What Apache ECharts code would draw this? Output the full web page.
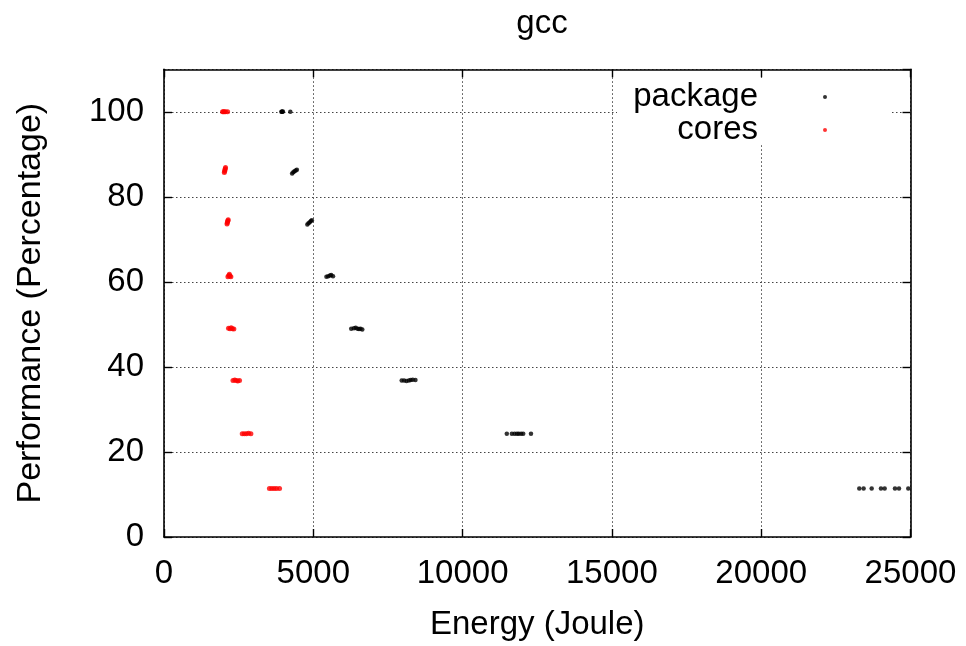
<!DOCTYPE html>
<html>
<head>
<meta charset="utf-8">
<script src="https://cdn.jsdelivr.net/npm/echarts@6/dist/echarts.min.js"></script>
<style>
  html, body { margin: 0; padding: 0; background: #fff; }
  #chart { width: 966px; height: 646px; }
</style>
</head>
<body>
<div id="chart"></div>
<script>
// Energy (Joule) vs. performance (%) for gcc, one point per run
const chartTitle = 'gcc';
const seriesNames = ['package', 'cores'];

const packagePoints = [
  [3930, 100], [3950, 100], [3965, 100], [3980, 100.1], [4230, 100],
  [4290, 85.5], [4330, 85.8], [4370, 86.0], [4410, 86.2], [4450, 86.4],
  [4800, 73.5], [4840, 73.8], [4880, 74.0], [4920, 74.3], [4950, 74.5],
  [5440, 61.2], [5500, 61.3], [5560, 61.5], [5600, 61.6], [5660, 61.3],
  [6270, 49.0], [6360, 49.1], [6420, 49.2], [6480, 49.0], [6530, 48.9], [6580, 49.0], [6640, 48.8],
  [7960, 36.8], [8040, 36.8], [8120, 36.7], [8200, 36.8], [8260, 36.9], [8330, 37.0], [8420, 36.9],
  [11480, 24.3], [11650, 24.3], [11740, 24.3], [11820, 24.3], [11880, 24.3], [11960, 24.3], [12030, 24.3], [12290, 24.3],
  [23285, 11.4], [23430, 11.4], [23700, 11.4], [24010, 11.4], [24135, 11.4], [24480, 11.4], [24615, 11.4], [24925, 11.4]
];

const coresPoints = [
  [1960, 100], [1990, 100], [2020, 100], [2060, 100], [2130, 100],
  [2020, 85.7], [2030, 86.0], [2040, 86.3], [2050, 86.6], [2060, 86.9],
  [2110, 73.6], [2120, 73.9], [2130, 74.2], [2140, 74.4], [2150, 74.6],
  [2140, 61.2], [2170, 61.5], [2190, 61.8], [2210, 61.4], [2240, 61.2],
  [2160, 49.1], [2210, 49.0], [2250, 49.2], [2290, 49.0], [2340, 48.9],
  [2310, 36.8], [2370, 36.9], [2420, 36.8], [2470, 36.7], [2530, 36.8],
  [2620, 24.3], [2690, 24.3], [2760, 24.3], [2830, 24.4], [2910, 24.3],
  [3530, 11.4], [3610, 11.4], [3690, 11.4], [3770, 11.4], [3870, 11.4]
];

const xTickValues = [0, 5000, 10000, 15000, 20000, 25000];
const yTickValues = [0, 20, 40, 60, 80, 100];
const yMax = 110;

const FONT = 'Liberation Sans, Arial, Helvetica, sans-serif';
const FS = 33;

const gridLine = { show: true, lineStyle: { color: '#444', width: 1, type: [1.5, 2.5] } };
const frameLine = { show: true, onZero: false, lineStyle: { color: '#000', width: 1.6 } };
const innerTick = { show: true, inside: true, length: 8, lineStyle: { color: '#000', width: 1.4 } };

const xStep = xTickValues[1] - xTickValues[0];
const yStep = yTickValues[1] - yTickValues[0];
const plainNumber = v => String(v);

const chart = echarts.init(document.getElementById('chart'), null, { renderer: 'canvas' });

chart.setOption({
  backgroundColor: '#fff',
  animation: false,
  title: {
    text: chartTitle,
    left: 537,
    textAlign: 'center',
    top: 2,
    textStyle: { fontFamily: FONT, fontSize: FS, fontWeight: 'normal', color: '#000' }
  },
  grid: { left: 164, right: 55.5, top: 69.3, bottom: 106.5, containLabel: false },
  legend: {
    orient: 'vertical',
    align: 'right',
    right: 139,
    top: 80.5,
    padding: 0,
    itemGap: 0,
    itemWidth: 4,
    itemHeight: 4,
    icon: 'circle',
    selectedMode: false,
    data: seriesNames,
    textStyle: { fontFamily: FONT, fontSize: FS, color: '#000', lineHeight: 33, padding: [0, 60, 0, 0] }
  },
  graphic: [{
    type: 'rect',
    z: 3,
    shape: { x: 617, y: 78, width: 273, height: 67 },
    style: { fill: '#fff' },
    silent: true
  }],
  xAxis: [{
    type: 'value',
    position: 'bottom',
    min: xTickValues[0],
    max: xTickValues[xTickValues.length - 1],
    interval: xStep,
    name: 'Energy (Joule)',
    nameLocation: 'middle',
    nameGap: 71,
    nameTextStyle: { fontFamily: FONT, fontSize: FS, color: '#000' },
    axisLine: frameLine,
    axisTick: innerTick,
    axisLabel: { fontFamily: FONT, fontSize: FS, color: '#000', margin: 20, formatter: plainNumber },
    splitLine: gridLine
  }, {
    type: 'value',
    position: 'top',
    min: xTickValues[0],
    max: xTickValues[xTickValues.length - 1],
    interval: xStep,
    axisLine: frameLine,
    axisTick: innerTick,
    axisLabel: { show: false },
    splitLine: { show: false }
  }],
  yAxis: [{
    type: 'value',
    position: 'left',
    min: yTickValues[0],
    max: yMax,
    interval: yStep,
    name: 'Performance (Percentage)',
    nameLocation: 'middle',
    nameGap: 116,
    nameTextStyle: { fontFamily: FONT, fontSize: 34, color: '#000' },
    axisLine: frameLine,
    axisTick: innerTick,
    axisLabel: { fontFamily: FONT, fontSize: FS, color: '#000', margin: 20, showMaxLabel: false, formatter: plainNumber },
    splitLine: gridLine
  }, {
    type: 'value',
    position: 'right',
    min: yTickValues[0],
    max: yMax,
    interval: yStep,
    axisLine: frameLine,
    axisTick: innerTick,
    axisLabel: { show: false },
    splitLine: { show: false }
  }],
  series: [{
    name: seriesNames[0],
    type: 'scatter',
    xAxisIndex: 0,
    yAxisIndex: 0,
    symbol: 'circle',
    symbolSize: 4.5,
    itemStyle: { color: '#000' },
    data: packagePoints
  }, {
    name: seriesNames[1],
    type: 'scatter',
    xAxisIndex: 0,
    yAxisIndex: 0,
    symbol: 'circle',
    symbolSize: 5,
    itemStyle: { color: '#ff0000' },
    data: coresPoints
  }]
});
</script>
</body>
</html>
